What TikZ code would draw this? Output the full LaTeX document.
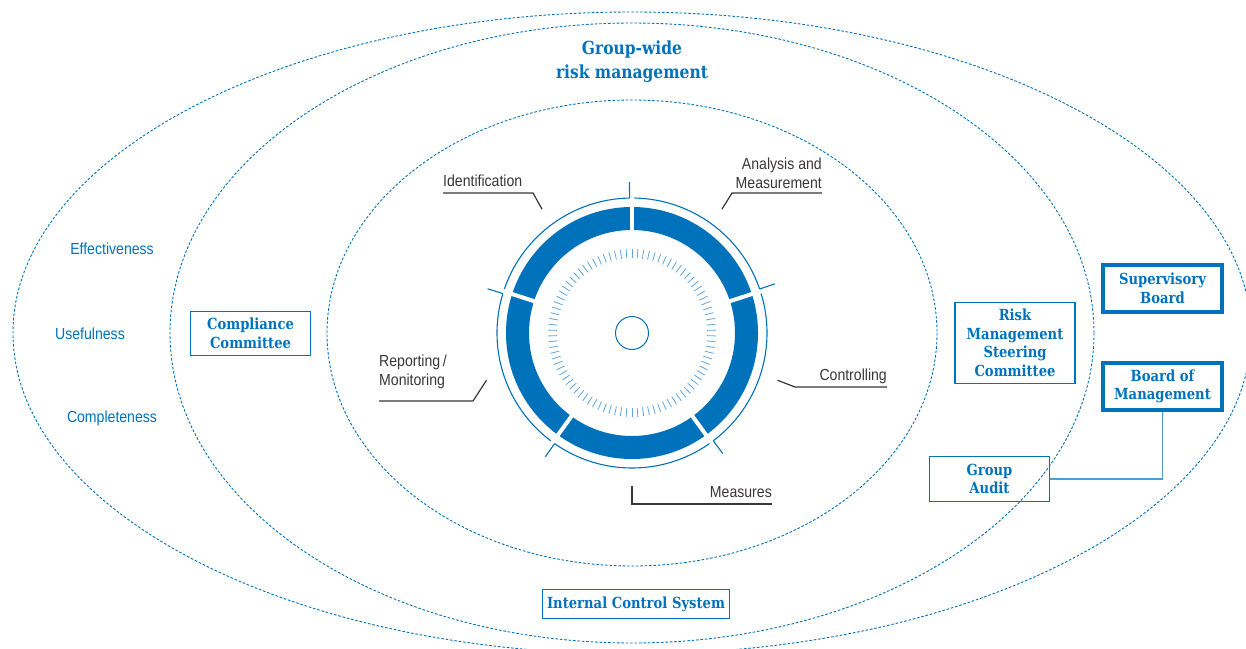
\documentclass[tikz,border=0pt]{standalone}
\usepackage{fontspec}
\newfontfamily\condsans[FakeStretch=0.88]{Liberation Sans}
\newfontfamily\boxserif[FakeStretch=0.86]{DejaVu Serif}
\usetikzlibrary{positioning}
\usetikzlibrary{calc}
\definecolor{riskblue}{RGB}{0,114,188}
\definecolor{ticklight}{RGB}{95,165,220}
\definecolor{linkblue}{RGB}{80,155,212}
\definecolor{labelgray}{RGB}{58,54,54}
\tikzstyle{zone} = [draw=riskblue, line width=0.9pt, dash pattern=on 2.6pt off 1.8pt]
\tikzstyle{unit} = [rectangle, draw=riskblue, line width=1.2pt, text=riskblue,
align=center, inner sep=2pt, minimum width=120pt,
font=\boxserif\bfseries\fontsize{15.3}{18.5}\selectfont]
\tikzstyle{board} = [unit, line width=3.8pt, minimum width=119pt, minimum height=47pt]
\tikzstyle{goal} = [text=riskblue, font=\condsans\fontsize{16}{19}\selectfont]
\tikzstyle{phase} = [text=labelgray, align=left, inner sep=0pt,
font=\condsans\fontsize{16}{19}\selectfont]
\tikzstyle{callout} = [draw=labelgray, line width=1.2pt]
\tikzstyle{link} = [draw=linkblue, line width=1.5pt]

\begin{document}
\begin{tikzpicture}[x=1pt, y=-1pt]
  \useasboundingbox (0,0) rectangle (1246,648);
  \coordinate (c) at (632,333);

  % the three spheres
  \draw[zone] (c) ellipse [x radius=619, y radius=321];
  \draw[zone] (c) ellipse [x radius=462, y radius=310];
  \draw[zone] (c) ellipse [x radius=305, y radius=233];

  % process wheel
  \begin{scope}[shift={(c)}, y=1pt]
    \fill[riskblue, even odd rule] (0,0) circle [radius=126] (0,0) circle [radius=103];
    \foreach \a in {90,18,-54,-126,162} {
      \draw[white, line width=4pt] (\a:100) -- (\a:129);
      \draw[riskblue, line width=1.1pt] (\a+1:135) arc [start angle=\a+1, end angle=\a+71, radius=135];
      \draw[riskblue, line width=1.1pt] (\a+1:135) -- (\a+1:151);
    }
    \foreach \t in {2,6,...,358}
      \draw[ticklight, line width=0.8pt] (\t:75) -- (\t:84);
    \draw[riskblue, line width=1pt] (0,0) circle [radius=16.5];
    \foreach \a/\n in {126/identend, 54/analysisend, -18/ctrlend, -90/measend, 198/reportend}
      \coordinate (\n) at (\a:153);
  \end{scope}

  % phases
  \node[phase, anchor=base west] (ident) at (443,186) {Identification};
  \node[phase, align=right, anchor=south east] (analysis) at (822,189) {Analysis and\\Measurement};
  \node[phase, anchor=base east] (ctrl) at (887,380) {Controlling};
  \node[phase, anchor=base east] (meas) at (772,497) {Measures};
  \node[phase, anchor=south west] (report) at (379,389) {Reporting\,/\\Monitoring};
  \draw[callout] ([yshift=-7pt]ident.base west) -- ++(90,0) -- (identend);
  \draw[callout] ([yshift=-4pt]analysis.south east) -- ++(-90,0) -- (analysisend);
  \draw[callout] ([yshift=-7pt]ctrl.base east) -- ++(-92,0) -- (ctrlend);
  \draw[callout] (measend) |- ([yshift=-7pt]meas.base east);
  \draw[callout] ([yshift=-12pt]report.south west) -- ++(94,0) -- (reportend);

  % goals
  \node[goal] (effect) at (112,249) {Effectiveness};
  \node[goal] (useful) at (90,334) {Usefulness};
  \node[goal] (complete) at (112,418) {Completeness};

  \node[text=riskblue, align=center, font=\boxserif\bfseries\fontsize{18}{24}\selectfont] (title)
    at (632,62) {Group-wide\\risk management};

  % committees and boards
  \node[unit, minimum height=44pt] (compliance) at (250.5,333.5) {Compliance\\Committee};
  \node[unit, minimum height=81pt] (steering) at (1015,343) {Risk\\Management\\Steering\\Committee};
  \node[board] (supervisory) at (1162.5,288.5) {Supervisory\\Board};
  \node[board, below=47pt of supervisory] (management) {Board of\\Management};
  \node[unit, minimum height=45pt] (audit) at (989.5,479) {Group\\Audit};
  \node[unit, minimum width=187pt, minimum height=29pt] (ics) at (636,604) {Internal Control System};
  \draw[link] (management.south) |- (audit.east);
\end{tikzpicture}
\end{document}
